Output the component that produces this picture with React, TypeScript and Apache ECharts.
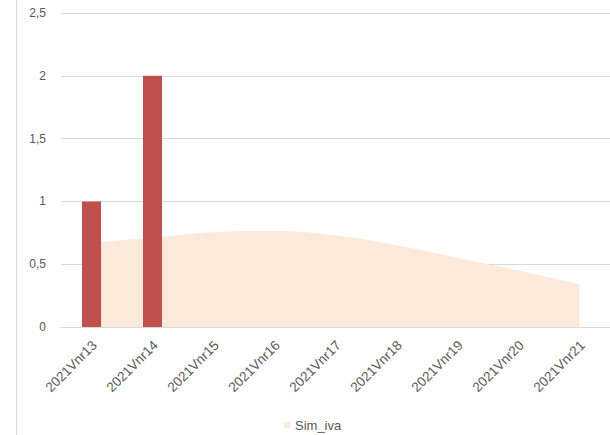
import React, { useEffect, useRef } from "react";
import * as echarts from "echarts";

const categories = [
  "2021Vnr13", "2021Vnr14", "2021Vnr15", "2021Vnr16", "2021Vnr17",
  "2021Vnr18", "2021Vnr19", "2021Vnr20", "2021Vnr21",
];
const barValues: (number | null)[] = [1, 2, null, null, null, null, null, null, null];
const simIva = [0.67, 0.71, 0.755, 0.765, 0.73, 0.65, 0.55, 0.45, 0.34];
const yTicks = { min: 0, max: 2.5, interval: 0.5 };

const FONT = "Liberation Sans";
const TEXT_COLOR = "#595959";

export default function App() {
  const ref = useRef<HTMLDivElement>(null);
  useEffect(() => {
    if (!ref.current) return;
    const chart = echarts.init(ref.current, null, { renderer: "svg" });
    const borderLine = {
      id: "border",
      type: "line",
      shape: { x1: 16.5, y1: 0, x2: 16.5, y2: 435 },
      style: { stroke: "#D9D9D9", lineWidth: 1 },
    };
    chart.setOption({
      animation: false,
      backgroundColor: "#ffffff",
      textStyle: { fontFamily: FONT },
      grid: { left: 61, right: 0, top: 13, bottom: 108, containLabel: false, outerBoundsMode: "none" },
      legend: {
        data: [{ name: "Sim_iva", icon: "rect" }],
        top: 418,
        left: 284,
        padding: 0,
        itemWidth: 6,
        itemHeight: 6,
        textStyle: { color: TEXT_COLOR, fontSize: 13, fontFamily: FONT, lineHeight: 14 },
      },
      graphic: [borderLine],
      xAxis: {
        type: "category",
        data: categories,
        boundaryGap: true,
        axisTick: { show: false },
        axisLine: { lineStyle: { color: "#D9D9D9" } },
        axisLabel: { show: false },
      },
      yAxis: {
        type: "value",
        min: yTicks.min,
        max: yTicks.max,
        interval: yTicks.interval,
        axisLine: { show: false },
        axisTick: { show: false },
        splitLine: { lineStyle: { color: "#D9D9D9" } },
        axisLabel: {
          margin: 15,
          color: TEXT_COLOR,
          fontSize: 12,
          formatter: (v: number) => String(v).replace(".", ","),
        },
      },
      series: [
        {
          name: "Sim_iva",
          type: "line",
          data: simIva,
          smooth: 0.4,
          showSymbol: false,
          symbol: "none",
          lineStyle: { width: 0, color: "#FCE9DA" },
          itemStyle: { color: "#FCE9DA" },
          areaStyle: { color: "#FCE9DA", opacity: 1 },
          z: 1,
        },
        {
          name: "Ist",
          type: "bar",
          data: barValues,
          barWidth: 19,
          itemStyle: { color: "#C0504D" },
          z: 3,
        },
      ],
    });
    // Rotated category labels, positioned from the axis scale.
    const labels = categories.map((cat, i) => {
      const p = chart.convertToPixel({ xAxisIndex: 0, yAxisIndex: 0 }, [i, 0]) as number[];
      return {
        id: "xl" + i,
        type: "text",
        x: p[0] + 3,
        y: p[1] + 16,
        rotation: Math.PI / 4,
        style: {
          text: cat,
          fill: TEXT_COLOR,
          fontSize: 13.5,
          fontFamily: FONT,
          align: "right",
          verticalAlign: "middle",
        },
      };
    });
    chart.setOption({ graphic: [borderLine, ...labels] });
    return () => chart.dispose();
  }, []);
  return <div ref={ref} style={{ width: 610, height: 435, position: "absolute", left: 0, top: 0 }} />;
}
